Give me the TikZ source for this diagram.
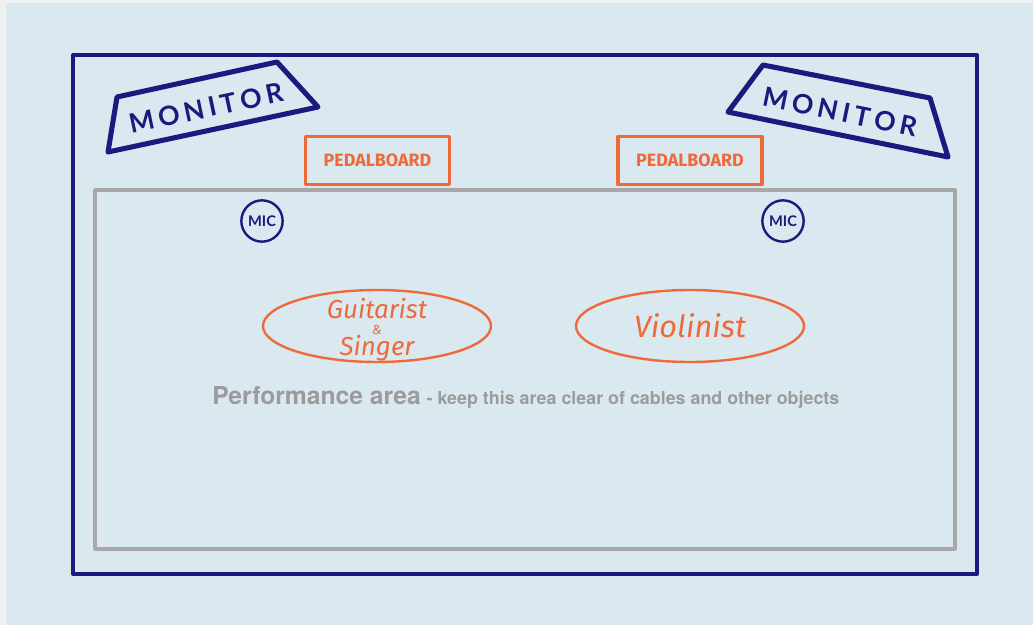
\documentclass[tikz,border=0pt]{standalone}
\usepackage{fontspec}
\newfontfamily\monfont{Lato}
\newfontfamily\handfont{Fira Sans}
\newfontfamily\labelfont{TeX Gyre Heros}
\definecolor{stagebg}{HTML}{DAE9F0}
\definecolor{pagebg}{HTML}{EEF0F1}
\definecolor{navy}{HTML}{1B1A7E}
\definecolor{gearorange}{HTML}{EE6A3A}
\definecolor{areagray}{HTML}{A8A8A8}
\definecolor{textgray}{HTML}{9B9B9B}
\tikzset{
  monitortext/.style={text=navy, font=\monfont\bfseries\fontsize{20}{20}\selectfont},
  pedalbox/.style={draw=gearorange, line width=2.6pt, minimum width=108pt, minimum height=36pt,
    text=gearorange, font=\handfont\bfseries\fontsize{13.4}{13.4}\selectfont},
  micbubble/.style={draw=navy, circle, line width=1.8pt, minimum size=31pt, inner sep=0pt,
    text=navy, font=\monfont\bfseries\fontsize{11}{11}\selectfont},
  player/.style={draw=gearorange, ellipse, line width=1.8pt, minimum width=171pt, minimum height=54pt,
    inner sep=0pt},
  playername/.style={text=gearorange, align=center, inner sep=0pt,
    font=\handfont\itshape\fontsize{19.5}{11.5}\selectfont}
}
\usetikzlibrary{shapes.geometric}
\begin{document}
\begin{tikzpicture}[x=0.75pt, y=-0.75pt, line cap=round, line join=round]
  \useasboundingbox (0,0) rectangle (1033,625);
  % 背景
  \fill[pagebg] (0,0) rectangle (1033,625);
  \fill[stagebg] (6,3) rectangle (1033,625);

  % ステージの外枠と演奏エリア
  \draw[navy, line width=3pt] (73,55) rectangle (977,574);
  \draw[areagray, line width=2.3pt] (95,190) rectangle (955,549);

  % モニター(台形)
  \draw[navy, line width=3.8pt] (117,97) -- (277,62) -- (318,107) -- (108,152) -- cycle;
  \node[monitortext, rotate=12] (monL) at (206,108) {M\,O\,N\,I\,T\,O\,R};
  \draw[navy, line width=3.8pt] (763,65) -- (930,98) -- (948,157) -- (728,112) -- cycle;
  \node[monitortext, rotate=-11.5] (monR) at (840,112) {M\,O\,N\,I\,T\,O\,R};

  % ペダルボード
  \node[pedalbox] (pedalL) at (377.5,160.5) {PEDALBOARD};
  \node[pedalbox] (pedalR) at (690,160.5) {PEDALBOARD};

  % マイク
  \node[micbubble] (micL) at (262,221) {MIC};
  \node[micbubble] (micR) at (783,221) {MIC};

  % 演奏者
  \node[player] (guitar) at (377,326) {};
  \node[playername] (guitarName) at ([yshift=-3pt]guitar.center) {Guitarist\\{\fontsize{10}{11.5}\selectfont\&}\\Singer};
  \node[player] (violin) at (690,326) {};
  \node[playername, font=\handfont\itshape\fontsize{23}{23}\selectfont] (violinName) at (violin.center) {Violinist};

  % 演奏エリアの注意書き
  \node[anchor=west, inner sep=0pt, text=textgray, font=\labelfont\bfseries\fontsize{18.5}{18.5}\selectfont]
    (perf) at (212,396) {Performance area};
  \node[anchor=base west, inner sep=0pt, text=textgray, font=\labelfont\bfseries\fontsize{13.4}{13.4}\selectfont]
    (note) at ([xshift=4pt]perf.base east) {- keep this area clear of cables and other objects};
\end{tikzpicture}
\end{document}
